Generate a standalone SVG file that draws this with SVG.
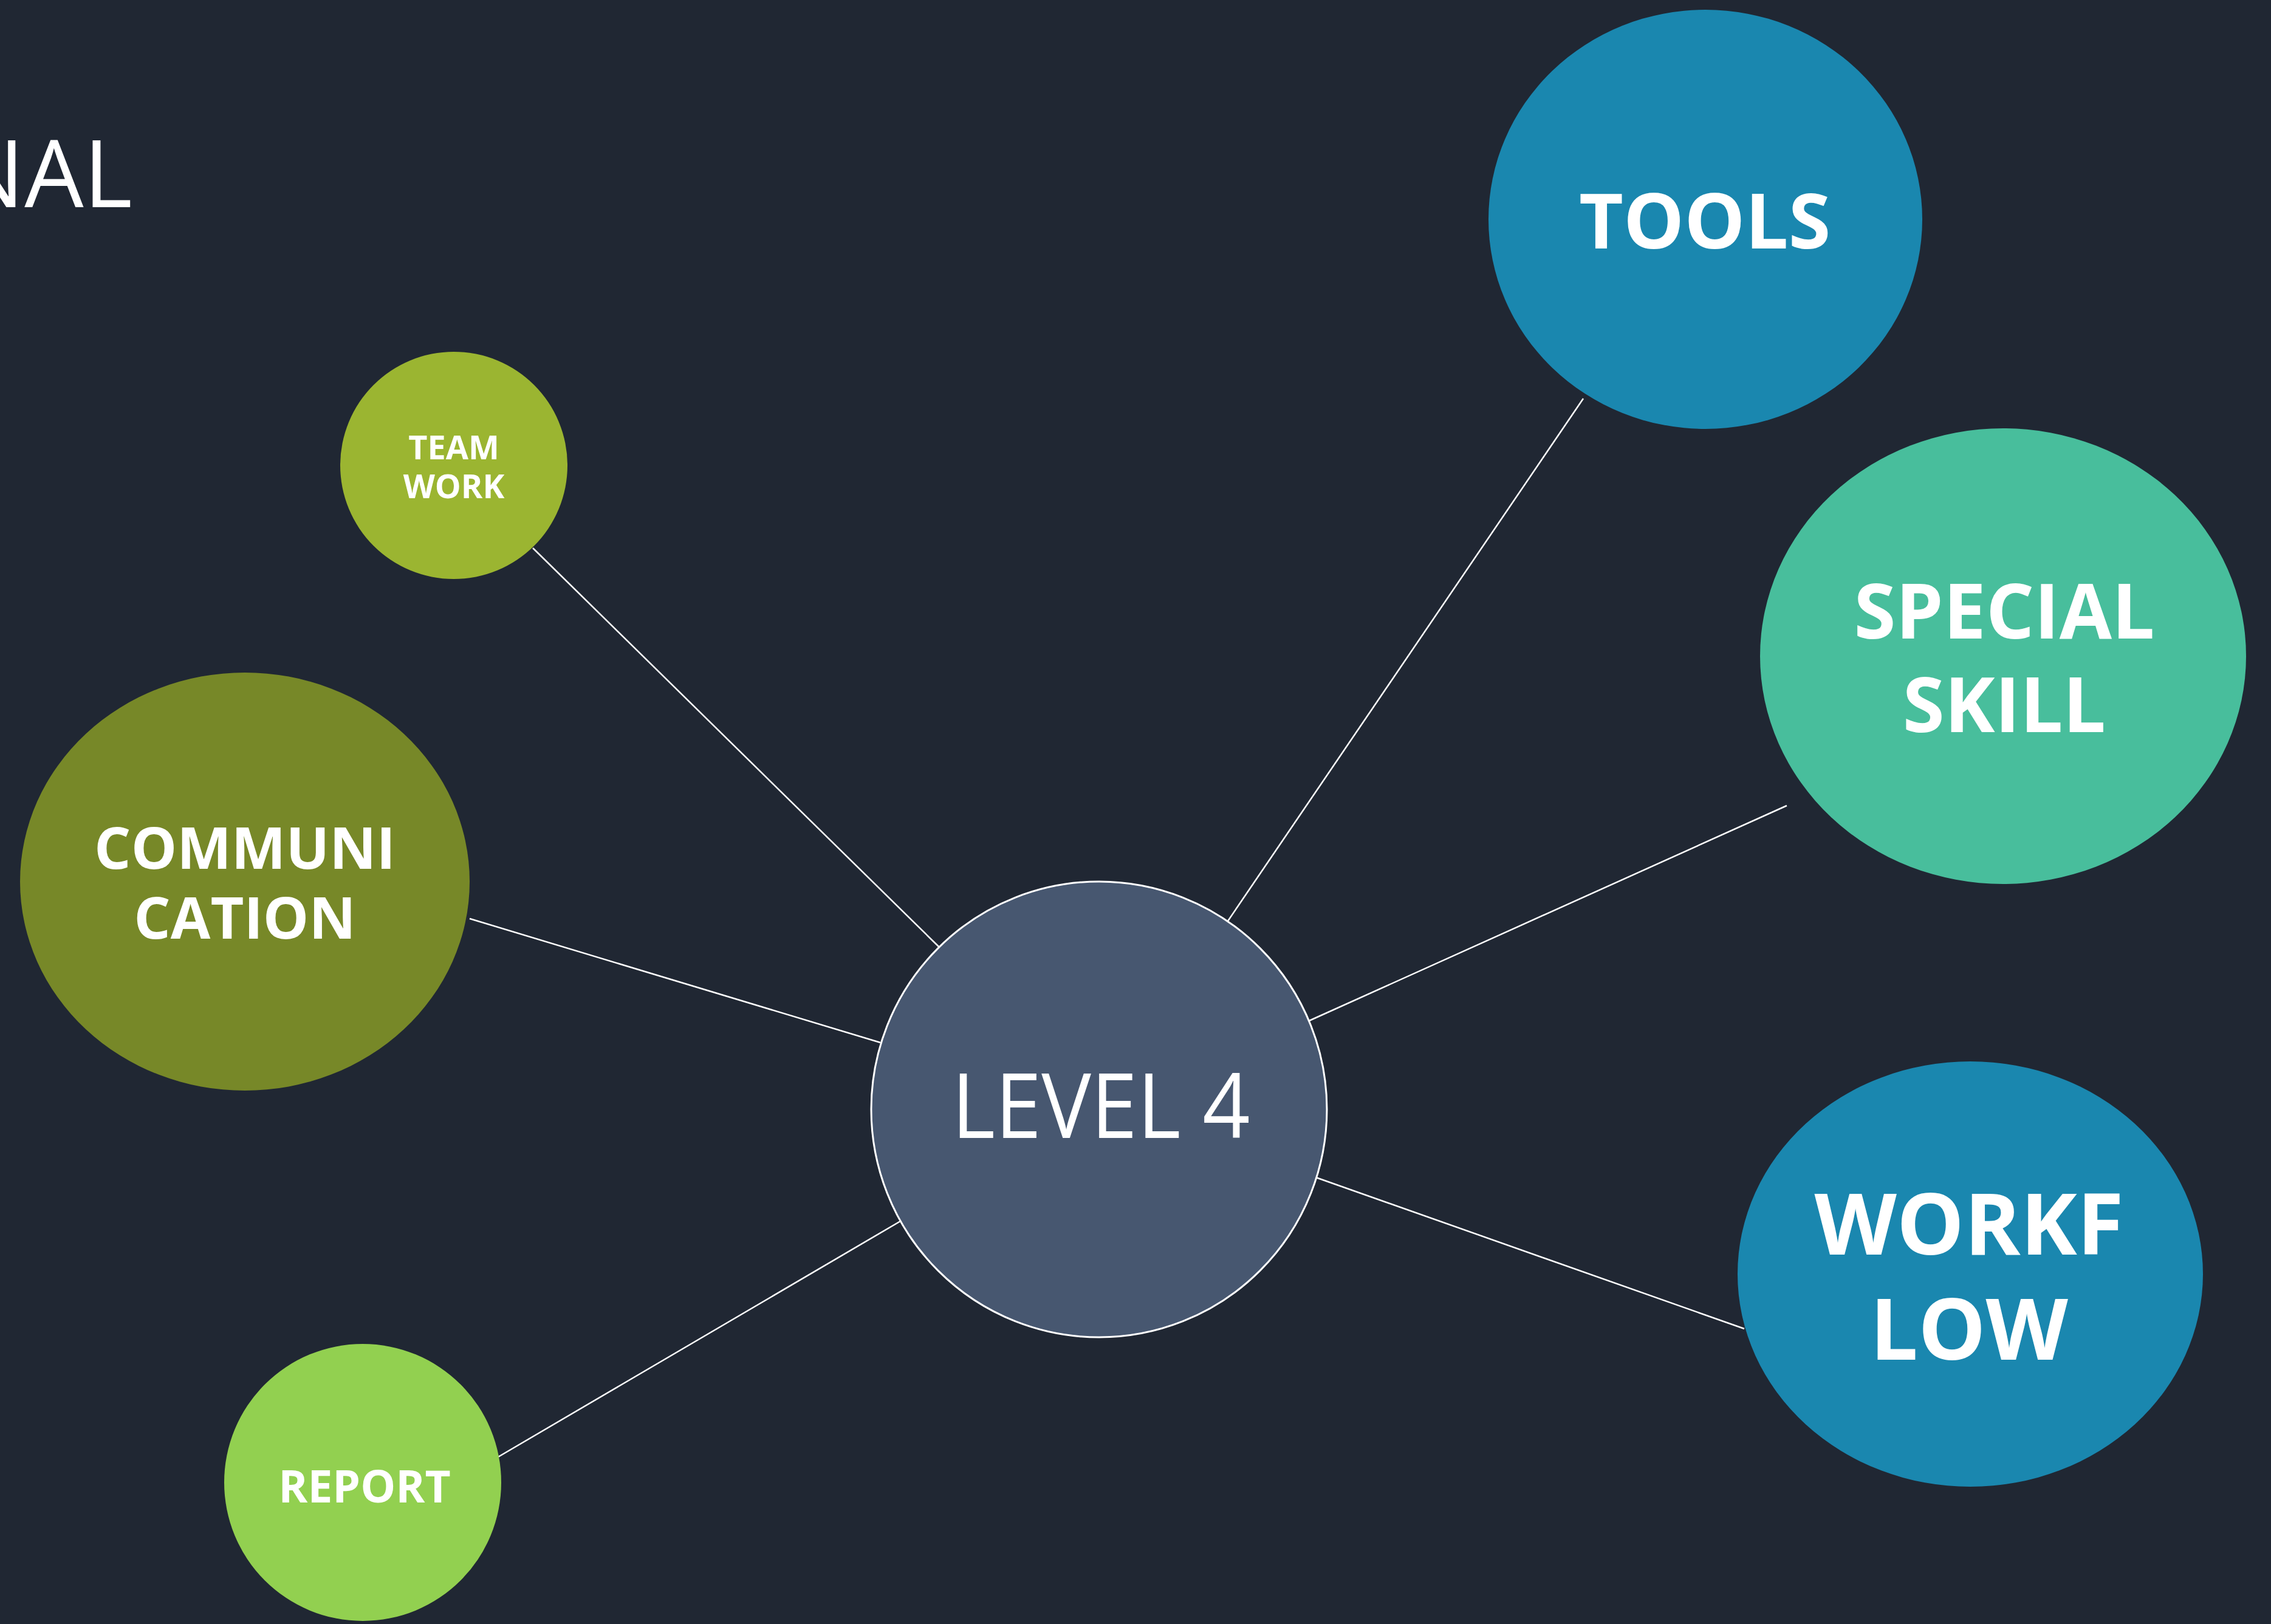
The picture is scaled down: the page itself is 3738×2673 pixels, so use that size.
<svg xmlns="http://www.w3.org/2000/svg" width="3738" height="2673" viewBox="0 0 3738 2673">
<style>
.lbl{font-family:"Open Sans","Noto Sans","DejaVu Sans",sans-serif;font-weight:700;fill:#ffffff;text-anchor:middle}
.thin{font-family:"Open Sans","Noto Sans","DejaVu Sans",sans-serif;font-weight:400;fill:#ffffff}
.con{stroke:#ffffff;stroke-width:2.5;fill:none}
</style>
<rect x="0" y="0" width="3738" height="2673" fill="#202733"/>
<text class="thin" x="218" y="341" font-size="154" text-anchor="end">NAL</text>
<g id="connectors">
<line class="con" x1="877" y1="902" x2="1545" y2="1558"/>
<line class="con" x1="773" y1="1512" x2="1449" y2="1716"/>
<line class="con" x1="820" y1="2398" x2="1482" y2="2010"/>
<line class="con" x1="2606" y1="656" x2="2021" y2="1516"/>
<line class="con" x1="2941" y1="1326" x2="2155" y2="1680"/>
<line class="con" x1="2166" y1="1938" x2="2871" y2="2187"/>
</g>
<g id="level4">
<circle cx="1809" cy="1826" r="375" fill="#475770" stroke="#ffffff" stroke-width="3"/>
<text class="thin" x="1812" y="1873" font-size="148" text-anchor="middle" textLength="491" lengthAdjust="spacingAndGlyphs">LEVEL 4</text>
</g>
<g id="teamwork">
<circle cx="747" cy="766" r="187" fill="#9BB531"/>
<text class="lbl" x="747" y="756" font-size="54">TEAM</text>
<text class="lbl" x="747" y="820" font-size="54">WORK</text>
</g>
<g id="communication">
<ellipse cx="403" cy="1451" rx="370" ry="344" fill="#778828"/>
<text class="lbl" x="403" y="1430" font-size="95">COMMUNI</text>
<text class="lbl" x="403" y="1545" font-size="95">CATION</text>
</g>
<g id="report">
<circle cx="597" cy="2440" r="228" fill="#92D050"/>
<text class="lbl" x="600" y="2473" font-size="73">REPORT</text>
</g>
<g id="tools">
<ellipse cx="2807" cy="361" rx="357" ry="345" fill="#1A87AF"/>
<text class="lbl" x="2806" y="409" font-size="126">TOOLS</text>
</g>
<g id="specialskill">
<ellipse cx="3297" cy="1080" rx="400" ry="375" fill="#48BE9C"/>
<text class="lbl" x="3299" y="1051" font-size="125">SPECIAL</text>
<text class="lbl" x="3299" y="1205" font-size="125">SKILL</text>
</g>
<g id="workflow">
<ellipse cx="3243" cy="2097" rx="383" ry="350" fill="#1A87AF"/>
<text class="lbl" x="3241" y="2065" font-size="140">WORKF</text>
<text class="lbl" x="3241" y="2238" font-size="140">LOW</text>
</g>
</svg>
